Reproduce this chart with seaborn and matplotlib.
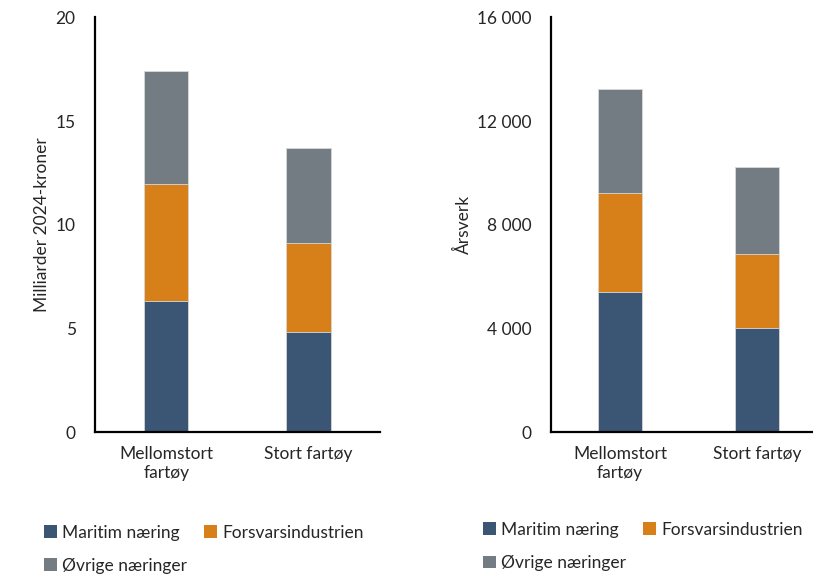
import matplotlib
matplotlib.use("Agg")
import matplotlib.pyplot as plt
import matplotlib.ticker as mticker
from matplotlib.patches import Patch
import pandas as pd
import seaborn as sns

# Data
categories = ["Mellomstort\nfartøy", "Stort fartøy"]
series_names = ["Maritim næring", "Forsvarsindustrien", "Øvrige næringer"]

# Left panel: milliarder 2024-kroner
kroner_maritim = [6.33, 4.82]
kroner_forsvar = [5.62, 4.29]
kroner_ovrige = [5.46, 4.61]

# Right panel: årsverk
arsverk_maritim = [5400, 4020]
arsverk_forsvar = [3840, 2840]
arsverk_ovrige = [4000, 3380]

colors = ["#3a5674", "#d77f18", "#737b83"]


def stacked_bars(ax, parts, width):
    """Tegner stablede søyler ved å overlappe kumulative summer."""
    df = pd.DataFrame({"kategori": categories})
    cum = [0.0] * len(categories)
    totals = []
    for p in parts:
        cum = [c + v for c, v in zip(cum, p)]
        totals.append(list(cum))
    # tegn største først, så de mindre oppå
    for tot, col in reversed(list(zip(totals, colors))):
        df["verdi"] = tot
        sns.barplot(data=df, x="kategori", y="verdi", color=col, ax=ax,
                    width=width, saturation=1, edgecolor="#d9d9d9",
                    linewidth=0.6, errorbar=None)


def style_axis(ax, ymax, step, ylabel, fmt):
    ax.set_ylim(0, ymax)
    ax.set_xlim(-0.5, 1.5)
    ax.yaxis.set_major_locator(mticker.MultipleLocator(step))
    ax.yaxis.set_major_formatter(mticker.FuncFormatter(fmt))
    ax.set_xlabel("")
    ax.set_ylabel(ylabel, fontsize=12.5)
    for s in ["top", "right"]:
        ax.spines[s].set_visible(False)
    for s in ["left", "bottom"]:
        ax.spines[s].set_color("black")
        ax.spines[s].set_linewidth(1.6)
    ax.tick_params(axis="y", length=6, width=1.2, labelsize=12.5, pad=8)
    ax.tick_params(axis="x", length=0, labelsize=12.5, pad=10)


sns.set_style("white")
plt.rcParams["font.family"] = ["Lato", "DejaVu Sans"]

fig = plt.figure(figsize=(8.13, 5.77), dpi=100)
ax1 = fig.add_axes([0.117, 0.251, 0.350, 0.719])
ax2 = fig.add_axes([0.678, 0.251, 0.338, 0.719])

stacked_bars(ax1, [kroner_maritim, kroner_forsvar, kroner_ovrige], 0.31)
style_axis(ax1, 20, 5, "Milliarder 2024-kroner", lambda v, p: f"{v:.0f}")

stacked_bars(ax2, [arsverk_maritim, arsverk_forsvar, arsverk_ovrige], 0.32)
style_axis(ax2, 16000, 4000, "Årsverk",
           lambda v, p: f"{v:,.0f}".replace(",", " "))

# legenden fylles kolonnevis, så rekkefølgen byttes for radvis visning
handles = [Patch(facecolor=c, edgecolor="none") for c in colors]
order = [0, 2, 1]
for x0, y0 in [(0.045, 0.103), (0.585, 0.108)]:
    fig.legend([handles[i] for i in order], [series_names[i] for i in order],
               ncol=2, loc="upper left", bbox_to_anchor=(x0, y0),
               frameon=False, fontsize=12.5, handlelength=0.75,
               handleheight=0.75, handletextpad=0.3, columnspacing=1.0,
               labelspacing=1.0, borderaxespad=0)

fig.savefig("out.png", dpi=100)
